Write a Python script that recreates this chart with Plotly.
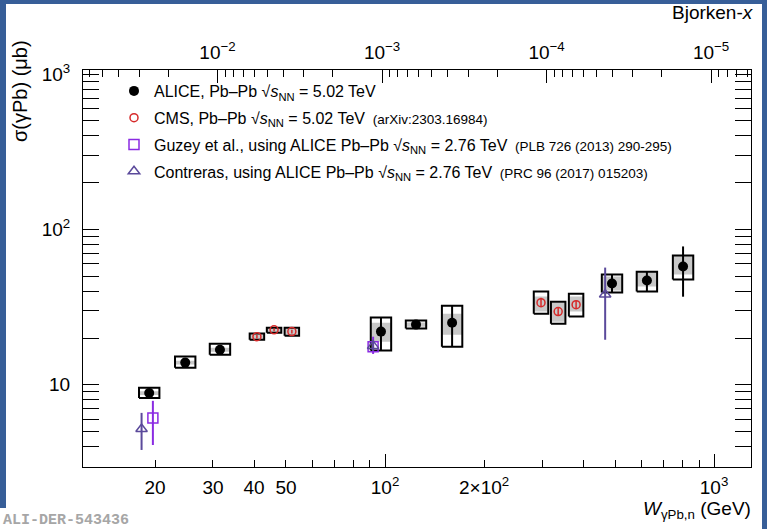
import numpy as np
import plotly.graph_objects as go

# ---------------- data ----------------
alice_W = [19.2, 24.7, 31.5, 97.2, 124.2, 159.9, 489.6, 625.0, 805.0]
alice_sig = [8.87, 13.9, 16.8, 22.0, 24.4, 25.1, 44.9, 46.9, 57.7]
alice_err_hi = [9.1, 14.2, 17.2, 27.1, 25.0, 32.3, 51.2, 53.5, 77.7]
alice_err_lo = [8.6, 13.6, 16.4, 16.6, 23.8, 17.6, 39.2, 39.8, 36.9]
alice_box_hi = [9.56, 15.2, 18.4, 27.1, 25.9, 32.3, 51.2, 53.5, 67.9]
alice_box_lo = [8.24, 12.9, 15.6, 16.6, 23.0, 17.6, 39.2, 39.8, 47.6]
alice_gray_hi = [9.1, 14.3, 17.3, 25.1, 25.2, 28.7, 49.8, 53.5, 67.9]
alice_gray_lo = [8.6, 13.5, 16.3, 18.9, 23.6, 21.0, 40.4, 42.9, 51.2]

cms_W = [40.8, 46.0, 52.1, 297.9, 335.9, 380.8]
cms_sig = [20.4, 22.6, 22.0, 33.8, 29.6, 32.8]
cms_err_hi = [20.9, 23.1, 22.6, 36.3, 31.4, 34.8]
cms_err_lo = [19.9, 22.1, 21.4, 31.8, 28.0, 31.0]
cms_box_hi = [21.4, 23.3, 23.3, 39.8, 34.3, 38.6]
cms_box_lo = [19.5, 21.6, 20.7, 28.7, 24.7, 27.5]
cms_gray_hi = [21.4, 23.3, 23.3, 37.0, 33.8, 37.0]
cms_gray_lo = [19.5, 21.6, 20.7, 29.6, 25.5, 29.6]

guzey_W = [19.7, 92.0]
guzey_sig = [6.12, 17.6]
guzey_err_hi = [7.89, 20.4]
guzey_err_lo = [4.10, 15.8]

contr_W = [18.2, 92.0, 466.7]
contr_sig = [5.2, 17.8, 38.1]
contr_err_hi = [6.6, 19.5, 56.8]
contr_err_lo = [3.81, 16.5, 19.5]

x_major_vals = [20, 30, 40, 50, 100, 200, 1000]
x_major_text = ["20", "30", "40", "50", "10<sup>2</sup>", "2×10<sup>2</sup>", "10<sup>3</sup>"]
y_major_vals = [10, 100, 1000]
y_major_text = ["10", "10<sup>2</sup>", "10<sup>3</sup>"]
bx_major_vals = [1e-2, 1e-3, 1e-4, 1e-5]
bx_major_text = ["10<sup>−2</sup>", "10<sup>−3</sup>", "10<sup>−4</sup>", "10<sup>−5</sup>"]

M_JPSI = 3.0969
W_RANGE = (12.08, 1295.0)
SIG_RANGE = (2.96, 1061.0)

# ---------------- helpers ----------------
W_PX = 767
H_PX = 529
L, R, T, B = 83, 16, 70, 62
PW = W_PX - L - R
PH = H_PX - T - B


def px(x):
    return (x - L) / PW


def py(y):
    return (H_PX - B - y) / PH


def boxes(W, lo, hi, hw):
    xs, ys = [], []
    for w, l, h in zip(W, lo, hi):
        a, b = w * 10 ** (-hw), w * 10 ** hw
        xs += [a, b, b, a, a, None]
        ys += [l, l, h, h, l, None]
    return xs, ys


def errs(sig, lo, hi):
    return ([h - s for s, h in zip(sig, hi)], [s - l for s, l in zip(sig, lo)])


FONT = "Liberation Sans, Arial, sans-serif"
GRAY = "#c8c8c8"
RED = "#d62a2a"
VIOLET = "#8a2be2"
INDIGO = "#5b4a9b"

fig = go.Figure()

# ALICE boxes
gx, gy = boxes(alice_W, alice_gray_lo, alice_gray_hi, 0.031)
fig.add_trace(go.Scatter(x=gx, y=gy, mode="lines", fill="toself", fillcolor=GRAY,
                         line=dict(width=0), showlegend=False, hoverinfo="skip"))
bx, by = boxes(alice_W, alice_box_lo, alice_box_hi, 0.031)
fig.add_trace(go.Scatter(x=bx, y=by, mode="lines", line=dict(color="black", width=2),
                         showlegend=False, hoverinfo="skip"))
# CMS boxes
gx, gy = boxes(cms_W, cms_gray_lo, cms_gray_hi, 0.022)
fig.add_trace(go.Scatter(x=gx, y=gy, mode="lines", fill="toself", fillcolor=GRAY,
                         line=dict(width=0), showlegend=False, hoverinfo="skip"))
bx, by = boxes(cms_W, cms_box_lo, cms_box_hi, 0.022)
fig.add_trace(go.Scatter(x=bx, y=by, mode="lines", line=dict(color="black", width=2),
                         showlegend=False, hoverinfo="skip"))

LEG_ALICE = "ALICE, Pb–Pb √<i>s</i><sub>NN</sub> = 5.02 TeV"
LEG_CMS = ("CMS, Pb–Pb √<i>s</i><sub>NN</sub> = 5.02 TeV\u2009"
           " <span style='font-size:13.5px'>(arXiv:2303.16984)</span>")
LEG_GUZEY = ("Guzey et al., using ALICE Pb–Pb √<i>s</i><sub>NN</sub> = 2.76 TeV\u2009"
             " <span style='font-size:13.5px'>(PLB 726 (2013) 290-295)</span>")
LEG_CONTR = ("Contreras, using ALICE Pb–Pb √<i>s</i><sub>NN</sub> = 2.76 TeV\u2009"
             " <span style='font-size:13.5px'>(PRC 96 (2017) 015203)</span>")

ea, eb = errs(alice_sig, alice_err_lo, alice_err_hi)
fig.add_trace(go.Scatter(x=alice_W, y=alice_sig, mode="markers", name=LEG_ALICE, legendgroup="a",
                         marker=dict(symbol="circle", size=10, color="black"),
                         error_y=dict(type="data", symmetric=False, array=ea, arrayminus=eb,
                                      color="black", thickness=2, width=0)))
ea, eb = errs(cms_sig, cms_err_lo, cms_err_hi)
fig.add_trace(go.Scatter(x=cms_W, y=cms_sig, mode="markers", name=LEG_CMS, legendgroup="b",
                         marker=dict(symbol="circle-open", size=8, color=RED, line=dict(width=1.5)),
                         error_y=dict(type="data", symmetric=False, array=ea, arrayminus=eb,
                                      color=RED, thickness=1.5, width=0)))
ea, eb = errs(guzey_sig, guzey_err_lo, guzey_err_hi)
fig.add_trace(go.Scatter(x=guzey_W, y=guzey_sig, mode="markers", name=LEG_GUZEY, legendgroup="c",
                         marker=dict(symbol="square-open", size=10, color=VIOLET, line=dict(width=1.5)),
                         error_y=dict(type="data", symmetric=False, array=ea, arrayminus=eb,
                                      color=VIOLET, thickness=2, width=0)))
ea, eb = errs(contr_sig, contr_err_lo, contr_err_hi)
fig.add_trace(go.Scatter(x=contr_W, y=contr_sig, mode="markers", name=LEG_CONTR, legendgroup="d",
                         marker=dict(symbol="triangle-up-open", size=10, color=INDIGO, line=dict(width=1.5)),
                         error_y=dict(type="data", symmetric=False, array=ea, arrayminus=eb,
                                      color=INDIGO, thickness=2, width=0)))

# invisible traces to create overlay axes
fig.add_trace(go.Scatter(x=[], y=[], xaxis="x2", showlegend=False))
fig.add_trace(go.Scatter(x=[], y=[], xaxis="x3", showlegend=False))

x_minor = [v * 10 ** d for d in (1, 2, 3) for v in range(2, 10)]
y_minor = [v * 10 ** d for d in (0, 1, 2) for v in range(2, 10)]
bx_minor = [v * 10.0 ** (-d) for d in (2, 3, 4, 5, 6) for v in range(2, 10)]

xr = [np.log10(W_RANGE[0]), np.log10(W_RANGE[1])]
bxr = [np.log10((M_JPSI / W_RANGE[0]) ** 2), np.log10((M_JPSI / W_RANGE[1]) ** 2)]

tickfont = dict(family=FONT, size=19, color="black")

fig.update_layout(
    width=W_PX, height=H_PX,
    margin=dict(l=L, r=R, t=T, b=B),
    paper_bgcolor="#375e98",
    plot_bgcolor="rgba(0,0,0,0)",
    xaxis=dict(type="log", range=xr, showgrid=False, zeroline=False,
               showline=True, linecolor="black", linewidth=1, mirror=True,
               ticks="inside", ticklen=7, tickcolor="black", tickwidth=1,
               tickmode="array", tickvals=x_major_vals, ticktext=x_major_text,
               tickfont=tickfont, ticklabelstandoff=3,
               minor=dict(tickmode="array", tickvals=x_minor, ticks="inside", ticklen=7,
                          tickcolor="black", showgrid=False)),
    xaxis3=dict(type="log", range=xr, overlaying="x", anchor="y", side="bottom",
                showgrid=False, zeroline=False, showline=False,
                ticks="inside", ticklen=13, tickcolor="black", tickwidth=1,
                tickmode="array", tickvals=[100, 1000], showticklabels=False),
    xaxis2=dict(type="log", range=bxr, overlaying="x", anchor="y", side="top",
                showgrid=False, zeroline=False, showline=False,
                ticks="inside", ticklen=13, tickcolor="black", tickwidth=1,
                tickmode="array", tickvals=bx_major_vals, ticktext=bx_major_text,
                tickfont=tickfont, ticklabelstandoff=6,
                minor=dict(tickmode="array", tickvals=bx_minor, ticks="inside", ticklen=7,
                           tickcolor="black", showgrid=False)),
    yaxis=dict(type="log", range=[np.log10(SIG_RANGE[0]), np.log10(SIG_RANGE[1])],
               showgrid=False, zeroline=False,
               showline=True, linecolor="black", linewidth=1, mirror="allticks",
               ticks="inside", ticklen=16, tickcolor="black", tickwidth=1,
               tickmode="array", tickvals=y_major_vals, ticktext=y_major_text,
               tickfont=tickfont, ticklabelstandoff=8,
               minor=dict(tickmode="array", tickvals=y_minor, ticks="inside", ticklen=9,
                          tickcolor="black", showgrid=False)),
    legend=dict(x=px(114), y=py(74), xanchor="left", yanchor="top",
                bgcolor="rgba(0,0,0,0)", borderwidth=0, tracegroupgap=3,
                font=dict(family=FONT, size=16, color="black")),
    showlegend=True,
    shapes=[dict(type="rect", xref="paper", yref="paper",
                 x0=px(6), x1=px(762), y0=py(540), y1=py(4),
                 fillcolor="white", line=dict(width=0), layer="below"),
            dict(type="rect", xref="paper", yref="paper",
                 x0=px(-5), x1=px(140), y0=py(540), y1=py(508),
                 fillcolor="white", line=dict(width=0), layer="below")],
    annotations=[
        dict(text="σ(γPb) (μb)", textangle=-90, xref="paper", yref="paper",
             x=px(20), y=py(38), xanchor="center", yanchor="top", showarrow=False,
             font=dict(family=FONT, size=20, color="black")),
        dict(text="<i>W</i><sub>γPb,n</sub> (GeV)", xref="paper", yref="paper",
             x=px(753), y=py(510), xanchor="right", yanchor="middle", showarrow=False,
             font=dict(family=FONT, size=19, color="black")),
        dict(text="Bjorken-<i>x</i>", xref="paper", yref="paper",
             x=px(756), y=py(13), xanchor="right", yanchor="middle", showarrow=False,
             font=dict(family=FONT, size=19, color="black")),
        dict(text="<b>ALI-DER-543436</b>", xref="paper", yref="paper",
             x=px(1), y=py(520), xanchor="left", yanchor="middle", showarrow=False,
             font=dict(family="Liberation Mono, Courier New, monospace", size=15, color="#a6a6a6")),
    ],
)

fig.write_html("out.html", config={"displayModeBar": False},
               post_script="document.body.style.margin='0';document.body.style.overflow='hidden';")
